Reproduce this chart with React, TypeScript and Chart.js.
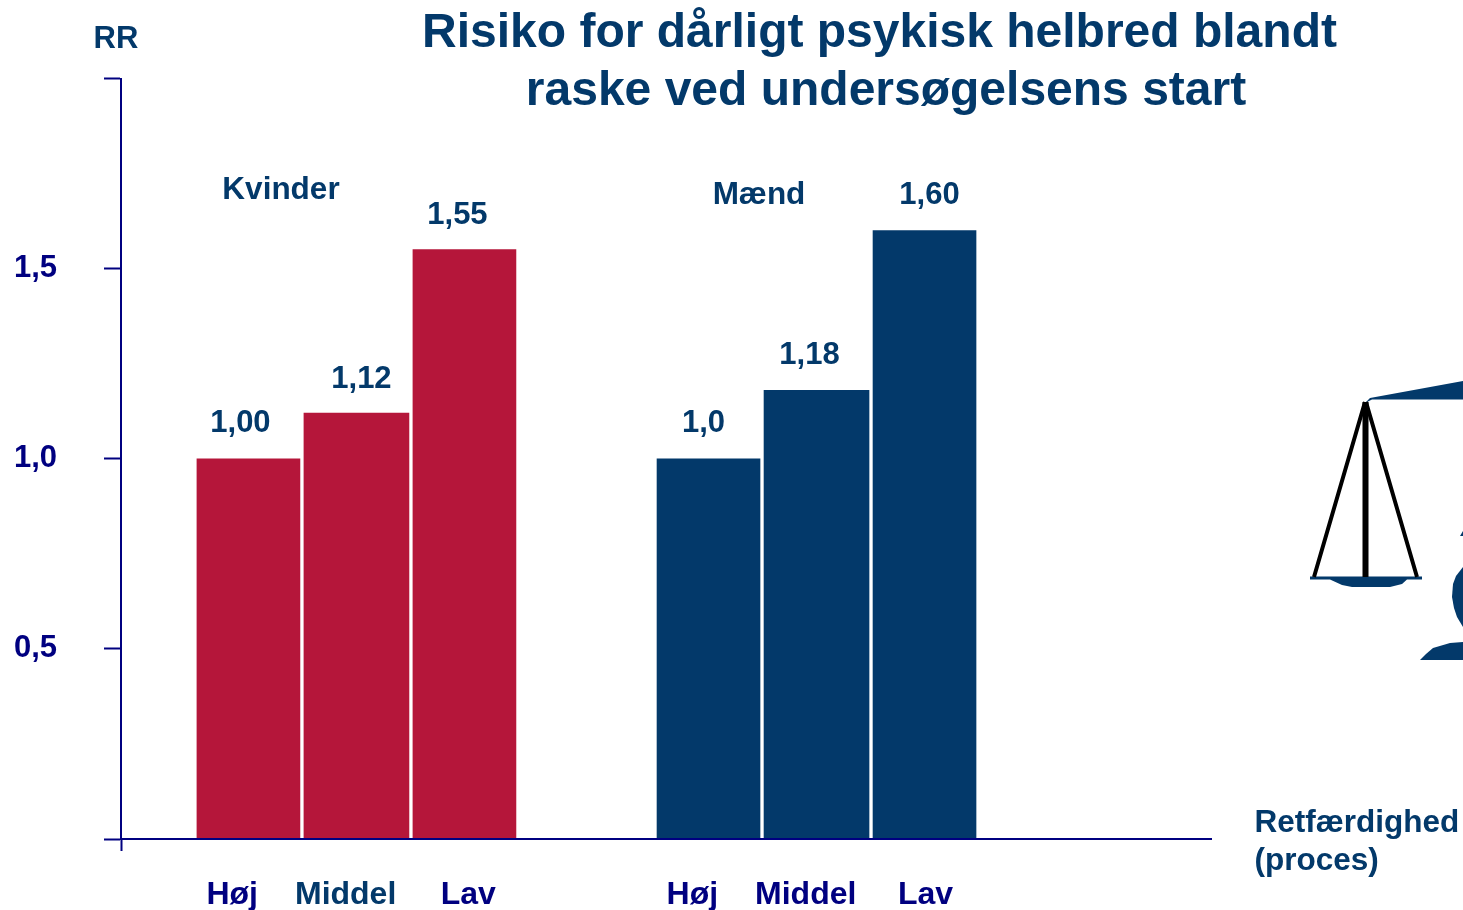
import React, { useEffect, useRef } from "react";
import { Chart, registerables } from "chart.js";

Chart.register(...registerables);

const groups = ["Kvinder", "Mænd"];
const levels = ["Høj", "Middel", "Lav"];
const hojValues = [1.0, 1.0];
const middelValues = [1.12, 1.18];
const lavValues = [1.55, 1.6];
const hojText = ["1,00", "1,0"];
const middelText = ["1,12", "1,18"];
const lavText = ["1,55", "1,60"];
const yTicks = ["", "0,5", "1,0", "1,5", ""];
const titleLines = ["Risiko for dårligt psykisk helbred blandt", "raske ved undersøgelsens start"];

const NAVY = "#000080";
const BLUE = "#03396A";
const RED = "#B5163A";
const SANS = '"Liberation Sans", Arial, sans-serif';

// horizontal slots of the bars and of the tick labels, in bar-pitch units
const hojSlots = [1.18, 5.44];
const middelSlots = [2.18, 6.44];
const lavSlots = [3.18, 7.44];
const levelLabelSlots = [1.03, 2.08, 3.215, 5.29, 6.34, 7.45];
const levelLabelColors = [NAVY, BLUE, NAVY, NAVY, NAVY, NAVY];

const pts = (xs: number[], ys: number[]) => xs.map((x, i) => ({ x, y: ys[i] }));

const overlay = {
  id: "overlay",
  afterDraw(chart: any) {
    const { ctx, scales } = chart;
    const text = (s: string, x: number, y: number, size: number, color: string, align: CanvasTextAlign = "center") => {
      ctx.font = `bold ${size}px ${SANS}`;
      ctx.fillStyle = color;
      ctx.textAlign = align;
      ctx.textBaseline = "middle";
      ctx.fillText(s, x, y);
    };
    ctx.save();
    text(titleLines[0], 879.5, 34, 48, BLUE);
    text(titleLines[1], 886, 92, 48, BLUE);
    text("RR", 116, 39, 31, BLUE);
    text(groups[0], 281, 190, 31.5, BLUE);
    text(groups[1], 759, 195, 31.5, BLUE);
    text("Retfærdighed", 1254.5, 823, 31.5, BLUE, "left");
    text("(proces)", 1254.5, 861, 31.5, BLUE, "left");

    const valueLabels: [string[], number[], number[], number[]][] = [
      [hojText, hojSlots, hojValues, [-8, -5]],
      [middelText, middelSlots, middelValues, [5, -7]],
      [lavText, lavSlots, lavValues, [-7, 5]],
    ];
    valueLabels.forEach(([strs, slots, vals, shift]) => {
      strs.forEach((s, i) => {
        const rise = s === "1,12" ? 34 : s === "1,55" ? 34 : 35;
        text(s, scales.x.getPixelForValue(slots[i]) + shift[i], scales.y.getPixelForValue(vals[i]) - rise, 31, BLUE);
      });
    });

    // balance illustration
    const poly = (p: number[][]) => {
      ctx.beginPath();
      p.forEach(([x, y], i) => (i ? ctx.lineTo(x, y) : ctx.moveTo(x, y)));
      ctx.closePath();
      ctx.fill();
    };
    ctx.fillStyle = BLUE;
    poly([[1365, 403], [1370, 398], [1463, 381], [1463, 399.5], [1372, 399.5]]);
    poly([[1310, 576.5], [1422, 576.5], [1422, 579.5], [1407, 579.5], [1402, 584], [1390, 587], [1352, 587], [1342, 585], [1330, 579.5], [1310, 579.5]]);
    poly([[1463, 567], [1456, 576], [1453, 584], [1452, 597], [1454, 608], [1457, 617], [1463, 627]]);
    poly([[1460, 536], [1463, 531], [1463, 536]]);
    poly([[1420, 660], [1426, 654], [1433, 648], [1450, 643], [1463, 642], [1463, 660]]);
    ctx.strokeStyle = "#000";
    ctx.lineWidth = 4;
    ctx.beginPath();
    ctx.moveTo(1365, 402);
    ctx.lineTo(1314, 577);
    ctx.moveTo(1366, 402);
    ctx.lineTo(1417, 577);
    ctx.stroke();
    ctx.lineWidth = 6;
    ctx.beginPath();
    ctx.moveTo(1365.5, 402);
    ctx.lineTo(1365.5, 577);
    ctx.stroke();
    ctx.restore();
  },
};

export default function App() {
  const ref = useRef<HTMLCanvasElement | null>(null);
  useEffect(() => {
    const chart = new Chart(ref.current!, {
      type: "bar",
      data: {
        datasets: [
          { label: levels[0], data: pts(hojSlots, hojValues), backgroundColor: [RED, BLUE], barThickness: 103, grouped: false },
          { label: levels[1], data: pts(middelSlots, middelValues), backgroundColor: [RED, BLUE], barThickness: 105, grouped: false },
          { label: levels[2], data: pts(lavSlots, lavValues), backgroundColor: [RED, BLUE], barThickness: 103, grouped: false },
        ] as any,
      },
      options: {
        responsive: false,
        animation: false,
        layout: { padding: { top: 78.5, right: 252, bottom: 0, left: 0 } },
        plugins: { legend: { display: false }, tooltip: { enabled: false }, title: { display: false } },
        scales: {
          x: {
            type: "linear",
            offset: false,
            min: 0,
            max: 1090 / 108,
            afterFit: (s: any) => { s.height = 71; },
            afterBuildTicks: (s: any) => { s.ticks = [0, ...levelLabelSlots].map((value) => ({ value })); },
            border: { color: NAVY, width: 2, z: 2 },
            grid: {
              offset: false,
              drawOnChartArea: false,
              tickLength: 12,
              tickWidth: 2,
              tickColor: (c: any) => (c.index === 0 ? NAVY : "rgba(0,0,0,0)"),
            },
            ticks: {
              autoSkip: false,
              maxRotation: 0,
              padding: 25,
              font: { family: SANS, weight: "bold", size: 32 },
              color: (c: any) => levelLabelColors[c.index - 1] ?? NAVY,
              callback: (_v: any, i: number) => (i === 0 ? "" : levels[(i - 1) % 3]),
            },
          } as any,
          y: {
            min: 0,
            max: 2,
            afterFit: (s: any) => { s.width = 121; },
            border: { color: NAVY, width: 2 },
            grid: { drawOnChartArea: false, tickLength: 17, tickWidth: 2, tickColor: NAVY },
            ticks: {
              stepSize: 0.5,
              padding: 47,
              font: { family: SANS, weight: "bold", size: 31 },
              color: NAVY,
              callback: (_v: any, i: number) => yTicks[i],
            },
          } as any,
        },
      },
      plugins: [overlay],
    });
    return () => chart.destroy();
  }, []);
  return <canvas ref={ref} width={1463} height={910} style={{ position: "absolute", left: 0, top: 0, display: "block" }} />;
}
